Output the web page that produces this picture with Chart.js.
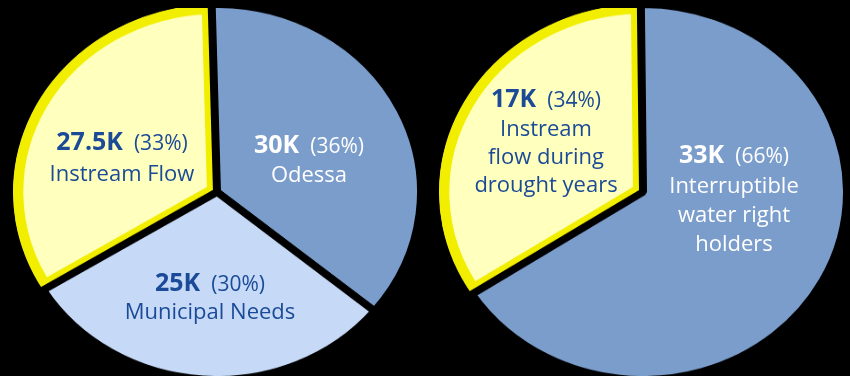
<!DOCTYPE html>
<html>
<head>
<meta charset="utf-8">
<script src="https://cdn.jsdelivr.net/npm/chart.js@4.4.0/dist/chart.umd.min.js"></script>
<style>
  html, body { margin: 0; padding: 0; background: #000; }
  body { width: 850px; height: 376px; position: relative; overflow: hidden; font-family: "Open Sans", sans-serif; }
  .pie { position: absolute; top: 8px; transform-origin: 0 0; transform: scaleY(0.92); }
  .line { position: absolute; transform: translateX(-50%); white-space: nowrap; color: #1b4b98; font-size: 22px; line-height: 22px; }
  .line.head { font-size: 25px; line-height: 25px; }
  .line b { font-weight: 700; }
  .line .pct { font-size: 21px; margin-left: 11px; }
  .line.white { color: #fff; }
</style>
</head>
<body>
<div class="pie" style="left:-3px"><canvas id="leftPie" width="440" height="400"></canvas></div>
<div class="pie" style="left:423px"><canvas id="rightPie" width="440" height="400"></canvas></div>
<div id="labels"></div>
<script>
// left pie: water split
const leftLabels = ['Instream Flow', 'Odessa', 'Municipal Needs'];
const leftValues = [27.5, 30, 25];
const leftColors = ['#ffffbe', '#7b9dcb', '#c6d9f6'];

// right pie: drought years
const rightLabels = ['Instream flow during drought years', 'Interruptible water right holders'];
const rightValues = [17, 33];
const rightColors = ['#ffffbe', '#7b9dcb'];

// text lines of the labels (label split over lines)
const leftLines = [['Instream Flow'], ['Odessa'], ['Municipal Needs']];
const rightLines = [['Instream', 'flow during', 'drought years'], ['Interruptible', 'water right', 'holders']];

// where each label sits: centre x, baseline of first line, line gap, white text?
const leftPos = [
    { x: 122, y: 150, gap: 30, white: false },
    { x: 309, y: 153, gap: 28, white: true },
    { x: 210, y: 291, gap: 27, white: false }
];
const rightPos = [
    { x: 546, y: 107, gap: 28, white: false },
    { x: 734, y: 163, gap: 29, white: true }
];

function makePie(canvasId, labels, values, colors, rotation) {
    const ctx = document.getElementById(canvasId).getContext('2d');
    // yellow slice is first, so the black edges of the others are drawn over it
    return new Chart(ctx, {
        type: 'pie',
        data: {
            labels: labels,
            datasets: [{
                data: values,
                backgroundColor: colors,
                borderColor: values.map((v, i) => i === 0 ? '#f2ee00' : '#000'),
                borderWidth: values.map((v, i) => i === 0 ? 10 : 8),
                borderAlign: values.map((v, i) => i === 0 ? 'inner' : 'center')
            }]
        },
        options: {
            responsive: false,
            animation: false,
            events: [],
            rotation: rotation,
            radius: 204,
            layout: { padding: 0 },
            plugins: {
                legend: { display: false },
                tooltip: { enabled: false }
            }
        }
    });
}

function addLabels(values, lines, pos) {
    const box = document.getElementById('labels');
    const total = values.reduce((a, b) => a + b, 0);
    values.forEach((v, i) => {
        const p = pos[i];
        const pct = Math.round(v / total * 100);
        const head = document.createElement('div');
        head.className = 'line head' + (p.white ? ' white' : '');
        head.innerHTML = '<b>' + v + 'K</b><span class="pct">(' + pct + '%)</span>';
        head.style.left = p.x + 'px';
        head.style.top = (p.y - 22) + 'px';
        box.appendChild(head);
        lines[i].forEach((t, j) => {
            const el = document.createElement('div');
            el.className = 'line' + (p.white ? ' white' : '');
            el.textContent = t;
            el.style.left = p.x + 'px';
            el.style.top = (p.y + p.gap * (j + 1) - 19.5) + 'px';
            box.appendChild(el);
        });
    });
}

makePie('leftPie', leftLabels, leftValues, leftColors, 238.5);
makePie('rightPie', rightLabels, rightValues, rightColors, 237);
addLabels(leftValues, leftLines, leftPos);
addLabels(rightValues, rightLines, rightPos);
</script>
</body>
</html>
